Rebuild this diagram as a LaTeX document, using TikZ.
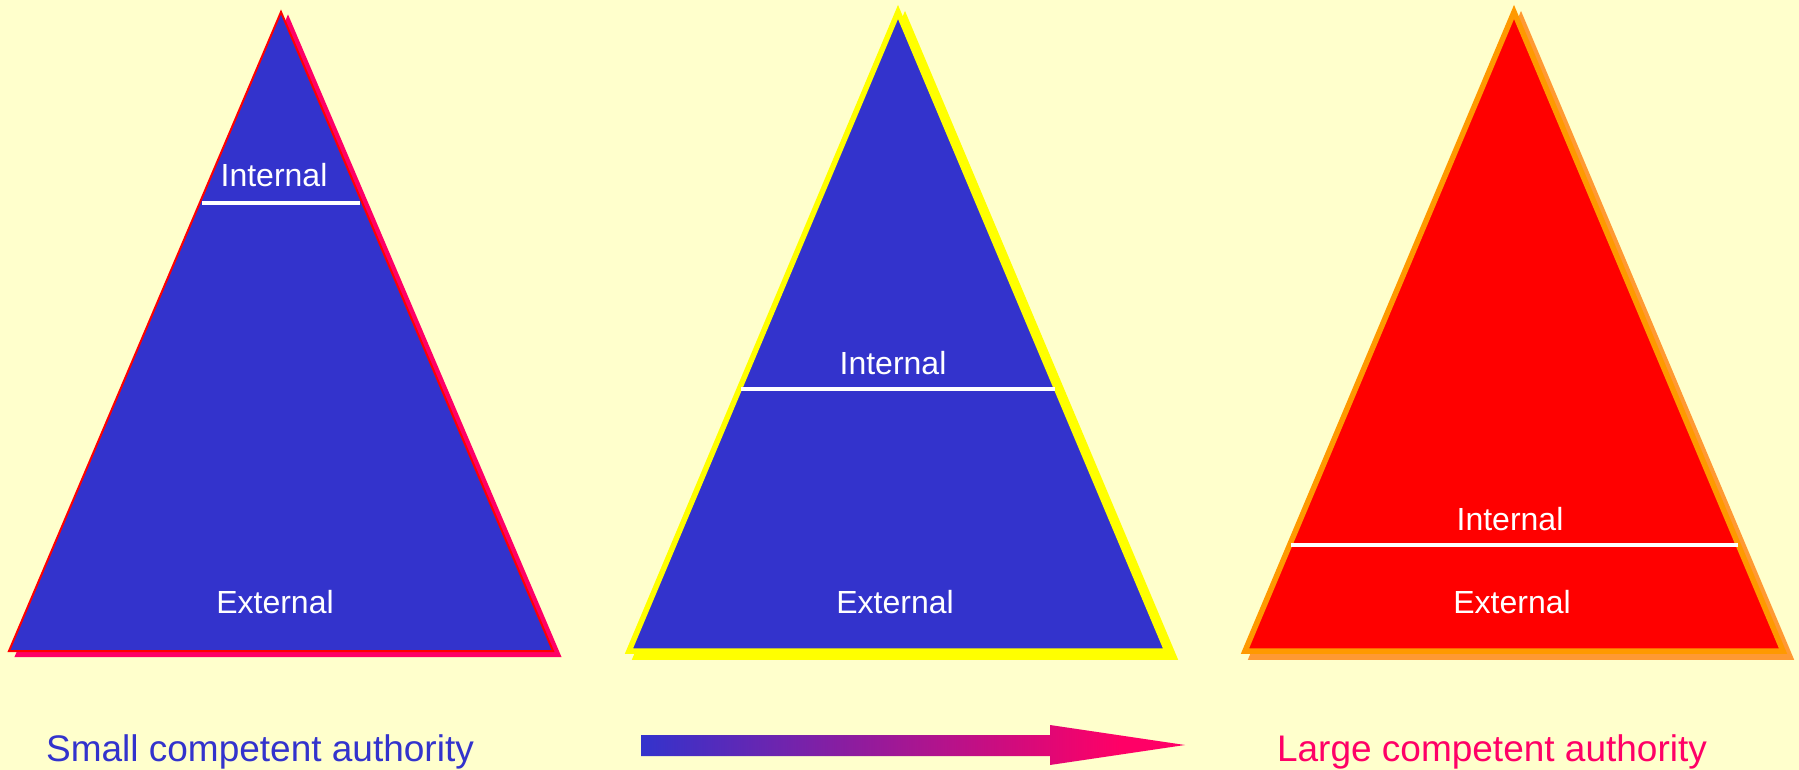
\documentclass[tikz,border=0pt]{standalone}
\usepackage{fontspec}
\setmainfont{Liberation Sans}
\definecolor{bg}{HTML}{FFFFCC}
\definecolor{blu}{HTML}{3333CC}
\definecolor{pnk}{HTML}{FF0066}
\definecolor{org}{HTML}{FF9900}
\definecolor{orgs}{HTML}{FF9933}
\definecolor{yel}{HTML}{FFFF00}
\definecolor{rd}{HTML}{FF0000}
\pgfdeclarehorizontalshading{arrowshade}{100bp}{color(0bp)=(blu); color(25bp)=(blu); color(69bp)=(pnk); color(100bp)=(pnk)}
\begin{document}
\begin{tikzpicture}[x=1pt,y=-1pt,
  lbl/.style={text=white,font=\fontsize{32}{38}\selectfont,inner sep=0pt,anchor=base},
  captxt/.style={font=\fontsize{37}{44}\selectfont,inner sep=0pt,anchor=base},
  divider/.style={draw=white,line width=3.5pt},
  line join=miter]
\fill[bg] (0,0) rectangle (1799,770);
\useasboundingbox (0,0) rectangle (1799,770);

% Triangle 1
\filldraw[fill=pnk,draw=pnk,line width=2pt] (288,17) -- (560,656) -- (16,656) -- cycle;
\filldraw[fill=blu,draw=rd,line width=2pt] (281,12) -- (553,651) -- (9,651) -- cycle;
\coordinate (l1a) at (202,203);
\coordinate (l1b) at (360,203);
\draw[divider] (l1a) -- (l1b);
\node[lbl] (int1) at (274,187) {Internal};
\node[lbl] (ext1) at (275,613) {External};

% Triangle 2
\filldraw[fill=yel,draw=yel,line width=5.5pt] (905,18) -- (1174,657) -- (636,657) -- cycle;
\filldraw[fill=blu,draw=yel,line width=5.5pt] (898,12) -- (1167,651) -- (629,651) -- cycle;
\coordinate (l2a) at (741,389);
\coordinate (l2b) at (1055,389);
\draw[divider] (l2a) -- (l2b);
\node[lbl] (int2) at (893,374) {Internal};
\node[lbl] (ext2) at (895,613) {External};

% Triangle 3
\filldraw[fill=orgs,draw=orgs,line width=5.5pt] (1521,18) -- (1790,657) -- (1252,657) -- cycle;
\filldraw[fill=rd,draw=org,line width=5.5pt] (1514,12) -- (1783,651) -- (1245,651) -- cycle;
\coordinate (l3a) at (1291,545);
\coordinate (l3b) at (1738,545);
\draw[divider] (l3a) -- (l3b);
\node[lbl] (int3) at (1510,530) {Internal};
\node[lbl] (ext3) at (1512,613) {External};

% Bottom captions
\node[captxt,text=blu] (small) at (260,761) {Small competent authority};
\node[captxt,text=pnk] (large) at (1492,761) {Large competent authority};

% Gradient arrow
\shade[shading=arrowshade]
  (641,735) -- (1050,735) -- (1050,725) -- (1185,745) -- (1050,765) -- (1050,756) -- (641,756) -- cycle;
\end{tikzpicture}
\end{document}
